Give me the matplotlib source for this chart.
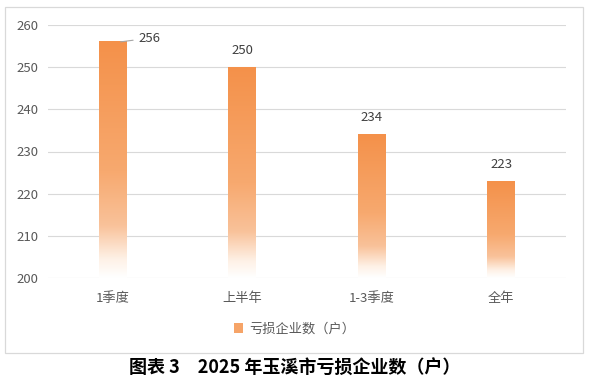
import numpy as np
import matplotlib
matplotlib.use("Agg")
import matplotlib.pyplot as plt
from matplotlib.colors import LinearSegmentedColormap
from matplotlib.patches import Patch, Rectangle

plt.rcParams['font.family'] = ['Noto Sans CJK SC', 'DejaVu Sans']

categories = ["1季度", "上半年", "1-3季度", "全年"]
values = [256, 250, 234, 223]
series_name = "亏损企业数（户）"
yticks = [200, 210, 220, 230, 240, 250, 260]

ORANGE = "#F4914A"
GRID = "#d9d9d9"
TXT = "#595959"

# degrade blanc (bas) -> orange (haut), comme dans Excel
cmap = LinearSegmentedColormap.from_list(
    "deg", [(0.0, "#ffffff"), (0.08, "#fef1e6"), (0.22, "#f9c29a"),
            (0.45, "#f7a96f"), (1.0, ORANGE)])
grad = np.linspace(0, 1, 256).reshape(-1, 1)

fig = plt.figure(figsize=(5.89, 3.81), dpi=100)
fig.patch.set_facecolor("white")
fig.patches.append(Rectangle((5 / 589, 1 - 353 / 381), 578 / 589, 346 / 381,
                             transform=fig.transFigure, fill=False,
                             edgecolor=GRID, linewidth=0.9))

ax = fig.add_axes([48 / 589, 1 - 278 / 381, 518 / 589, 253 / 381])
w = 0.216
x = np.arange(len(categories))
for xi, v in zip(x, values):
    ax.imshow(grad, cmap=cmap, origin="lower", aspect="auto",
              extent=[xi - w / 2, xi + w / 2, 200, v], zorder=3)

ax.set_xlim(-0.5, len(categories) - 0.5)
ax.set_ylim(200, 260)
ax.set_yticks(yticks)
ax.set_xticks(x)
ax.set_xticklabels(categories)
ax.yaxis.grid(True, color=GRID, linewidth=0.8)
ax.set_axisbelow(True)
for s in ax.spines.values():
    s.set_visible(False)
ax.tick_params(axis="both", length=0, colors=TXT, labelsize=9.5)
ax.tick_params(axis="x", pad=10)
ax.tick_params(axis="y", pad=7)

# etiquettes
ax.annotate(str(values[0]), xy=(x[0] + 0.06, values[0]), xytext=(x[0] + 0.2, 256.9),
            fontsize=9.5, color="#404040", va="center", ha="left",
            arrowprops=dict(arrowstyle="-", color="#a6a6a6", linewidth=0.8,
                            shrinkA=2, shrinkB=0))
for xi, v in zip(x[1:], values[1:]):
    ax.annotate(str(v), xy=(xi, v), xytext=(0, 12), textcoords="offset points",
                ha="center", va="center", fontsize=9.5, color="#404040")

fig.legend(handles=[Patch(facecolor="#f6a468", edgecolor="none", label=series_name)],
           loc="center", bbox_to_anchor=(0.5, 1 - 329 / 381), frameon=False,
           handlelength=0.7, handleheight=0.7, handletextpad=0.4,
           prop={"size": 9.5}, labelcolor=TXT)

fig.text(0.5, 1 - 368 / 381, "图表 3　2025 年玉溪市亏损企业数（户）",
         ha="center", va="center", fontsize=13, fontweight="bold", color="black")

fig.savefig("out.png", dpi=100, facecolor="white")
